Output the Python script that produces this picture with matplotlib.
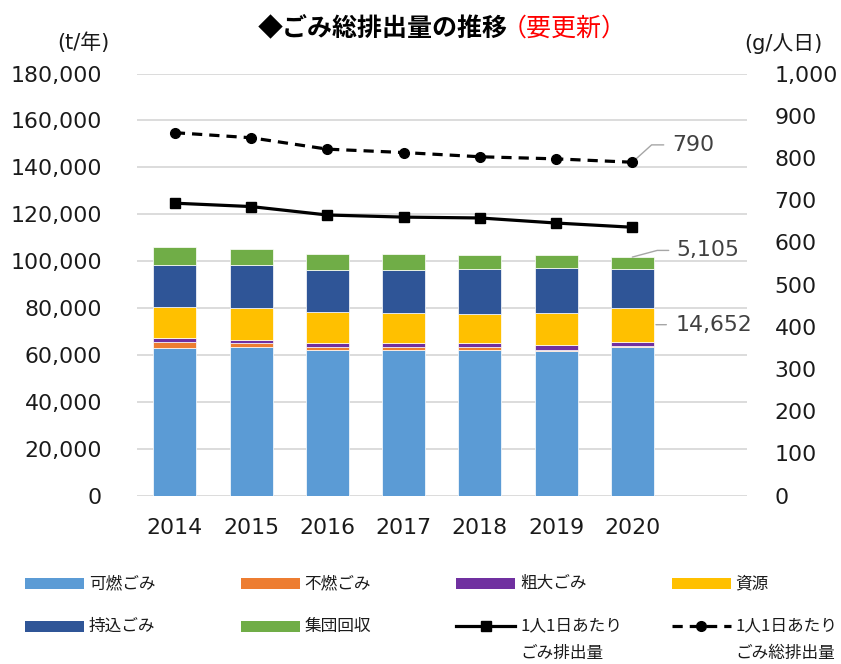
import numpy as np
import matplotlib
matplotlib.use("Agg")
import matplotlib.pyplot as plt
from matplotlib.patches import Rectangle
from matplotlib.lines import Line2D

# ---- data ----
years = ["2014", "2015", "2016", "2017", "2018", "2019", "2020"]
kanen = [63100, 63300, 62000, 62000, 62000, 61800, 63500]      # 可燃ごみ
funen = [2300, 1950, 1400, 1400, 1400, 450, 400]               # 不燃ごみ
sodai = [2000, 1350, 1700, 1850, 1850, 2000, 1700]             # 粗大ごみ
shigen = [12940, 13440, 13100, 12810, 12350, 13650, 14652]     # 資源
mochikomi = [18040, 18340, 18180, 18320, 19070, 19200, 16400]  # 持込ごみ
shudan = [7550, 6820, 6690, 6690, 5970, 5680, 5105]            # 集団回収
per_capita = [693, 685, 665, 660, 658, 646, 636]               # 1人1日あたりごみ排出量
per_capita_total = [860, 848, 821, 813, 803, 798, 790]         # 1人1日あたりごみ総排出量

series_names = ["可燃ごみ", "不燃ごみ", "粗大ごみ", "資源", "持込ごみ", "集団回収"]
series_vals = [kanen, funen, sodai, shigen, mochikomi, shudan]
series_cols = ["#5B9BD5", "#ED7D31", "#7030A0", "#FFC000", "#2F5597", "#70AD47"]

left_ticks = list(range(0, 180001, 20000))
right_ticks = list(range(0, 1001, 100))

CJK = "Noto Sans CJK JP"
MIX = ["DejaVu Sans", CJK]
plt.rcParams["font.family"] = MIX

W, H = 841, 664
fig = plt.figure(figsize=(W / 100, H / 100), dpi=100)

def fx(px):
    return px / W

def fy(py):
    return 1 - py / H

ax_l, ax_r = 136.7, 746.7
ax_b, ax_t = 495.7, 73.6
ax = fig.add_axes([fx(ax_l), fy(ax_b), fx(ax_r - ax_l), (ax_b - ax_t) / H])

x = np.arange(len(years))
bottom = np.zeros(len(years))
bw = 0.565
for name, vals, col in zip(series_names, series_vals, series_cols):
    v = np.array(vals, dtype=float)
    ax.bar(x, v, bw, bottom=bottom, color=col, edgecolor="#FFFFFF", linewidth=0.5,
           zorder=3, label=name)
    bottom += v

ax.set_xlim(-0.5, 7.5)
ax.set_ylim(0, 180000)
ax.set_yticks(left_ticks)
ax.set_yticklabels([f"{t:,}" for t in left_ticks])
ax.set_xticks(x)
ax.set_xticklabels(years)
ax.grid(axis="y", color="#D9D9D9", linewidth=1.3, zorder=0)
ax.set_axisbelow(True)
for s in ax.spines.values():
    s.set_visible(False)
ax.tick_params(axis="y", length=0, pad=25, labelsize=15.8, colors="#1a1a1a")
ax.tick_params(axis="x", length=0, pad=16, labelsize=15.8, colors="#1a1a1a")

ax2 = ax.twinx()
ax2.set_ylim(0, 1000)
ax2.set_yticks(right_ticks)
ax2.set_yticklabels([f"{t:,}" for t in right_ticks])
for s in ax2.spines.values():
    s.set_visible(False)
ax2.tick_params(axis="y", length=0, pad=20, labelsize=15.8, colors="#1a1a1a")

ax2.plot(x, per_capita, color="black", linewidth=2.3, marker="s", markersize=7.5, zorder=5)
ax2.plot(x, per_capita_total, color="black", linewidth=2.3, linestyle=(0, (3.2, 2.2)),
         marker="o", markersize=7, zorder=5)

# data labels
lab_col = "#404040"
lead_col = "#A6A6A6"
last = len(years) - 1
ax2.annotate(f"{per_capita_total[last]:,}", xy=(last, per_capita_total[last]),
             xytext=(28.6, 12.5), textcoords="offset points", ha="left", va="center",
             fontsize=15.8, color=lab_col,
             arrowprops=dict(arrowstyle="-", color=lead_col, lw=1.0, relpos=(0, 0.5),
                             connectionstyle="angle,angleA=0,angleB=42,rad=0",
                             shrinkA=4, shrinkB=2))
tot_last = bottom[last]
ax.annotate(f"{shudan[last]:,}", xy=(last, tot_last),
            xytext=(31.7, 4.8), textcoords="offset points", ha="left", va="center",
            fontsize=15.8, color=lab_col,
            arrowprops=dict(arrowstyle="-", color=lead_col, lw=1.0, relpos=(0, 0.5),
                            connectionstyle="angle,angleA=0,angleB=15,rad=0",
                            shrinkA=3.5, shrinkB=0))
shigen_mid = kanen[last] + funen[last] + sodai[last] + shigen[last] / 2
ax.annotate(f"{shigen[last]:,}", xy=(last, shigen_mid),
            xytext=(31, 0), textcoords="offset points", ha="left", va="center",
            fontsize=15.8, color=lab_col,
            arrowprops=dict(arrowstyle="-", color=lead_col, lw=1.0, relpos=(0, 0.5),
                            shrinkA=4.5, shrinkB=17))

# axis unit labels
fig.text(fx(83), fy(42.7), "(t/年)", ha="center", va="center", fontsize=15, color="#1a1a1a",
         family=MIX)
fig.text(fx(783), fy(43.3), "(g/人日)", ha="center", va="center", fontsize=15, color="#1a1a1a",
         family=MIX)

# title
fig.text(fx(508), fy(28.5), "◆ごみ総排出量の推移", ha="right", va="center", fontsize=18,
         fontweight="bold", color="black", family=[CJK, "DejaVu Sans"])
fig.text(fx(502), fy(28.5), "（要更新）", ha="left", va="center", fontsize=18,
         color="#FF0000", family=[CJK, "DejaVu Sans"])

# legend (manual)
col_x = [25, 240.5, 456, 671.5]
row_y = [583.5, 626]
hw, hh = 59, 11
leg_fs = 12
entries = [
    ("patch", series_cols[0], series_names[0], 0, 0),
    ("patch", series_cols[1], series_names[1], 1, 0),
    ("patch", series_cols[2], series_names[2], 2, 0),
    ("patch", series_cols[3], series_names[3], 3, 0),
    ("patch", series_cols[4], series_names[4], 0, 1),
    ("patch", series_cols[5], series_names[5], 1, 1),
    ("solid", "black", "1人1日あたり\nごみ排出量", 2, 1),
    ("dash", "black", "1人1日あたり\nごみ総排出量", 3, 1),
]
for kind, col, label, c, r in entries:
    px0 = col_x[c]
    py = row_y[r]
    if kind == "patch":
        fig.add_artist(Rectangle((fx(px0), fy(py + hh / 2)), fx(hw), hh / H,
                                 transform=fig.transFigure, facecolor=col, edgecolor="none"))
    else:
        ls = "-" if kind == "solid" else (0, (3.2, 2.2))
        fig.add_artist(Line2D([fx(px0), fx(px0 + hw)], [fy(py), fy(py)], transform=fig.transFigure,
                              color=col, linewidth=2.3, linestyle=ls))
        mk = "s" if kind == "solid" else "o"
        fig.add_artist(Line2D([fx(px0 + hw / 2)], [fy(py)], transform=fig.transFigure,
                              color=col, marker=mk, markersize=7.5 if mk == "s" else 7,
                              linestyle="none"))
    lines = label.split("\n")
    for i, ln in enumerate(lines):
        fig.text(fx(px0 + 64), fy(py + i * 27.3), ln, ha="left", va="center",
                 fontsize=leg_fs, color="#1a1a1a", family=[CJK, "DejaVu Sans"])

fig.savefig("out.png", dpi=100)
